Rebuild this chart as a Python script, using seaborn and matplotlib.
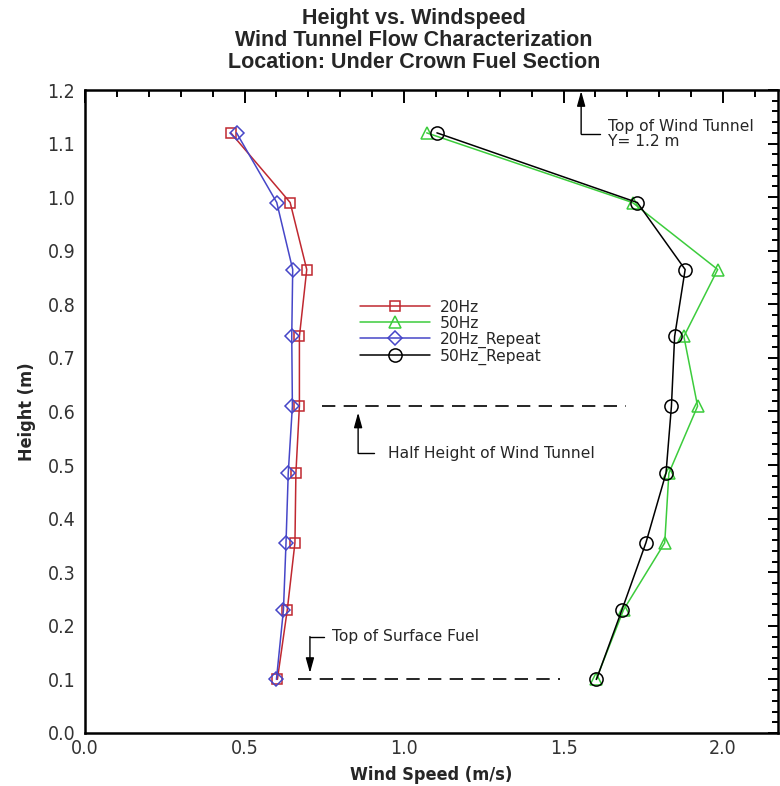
import matplotlib
matplotlib.use("Agg")
import matplotlib.pyplot as plt
from matplotlib.ticker import MultipleLocator, FormatStrFormatter
import numpy as np
import pandas as pd
import seaborn as sns

# Measured heights (m) and wind speeds (m/s) for each fan setting
heights = [0.10, 0.23, 0.355, 0.485, 0.61, 0.74, 0.865, 0.99, 1.12]
speed_20hz = [0.603, 0.634, 0.658, 0.661, 0.672, 0.672, 0.695, 0.643, 0.457]
speed_50hz = [1.602, 1.688, 1.817, 1.830, 1.920, 1.877, 1.983, 1.716, 1.071]
speed_20hz_rep = [0.600, 0.622, 0.630, 0.637, 0.650, 0.648, 0.651, 0.601, 0.475]
speed_50hz_rep = [1.603, 1.683, 1.758, 1.821, 1.838, 1.848, 1.881, 1.731, 1.103]

series_names = ["20Hz", "50Hz", "20Hz_Repeat", "50Hz_Repeat"]
series_values = [speed_20hz, speed_50hz, speed_20hz_rep, speed_50hz_rep]
series_colors = ["#c02830", "#3ccc3c", "#4646c8", "#000000"]
series_markers = ["s", "^", "D", "o"]
series_msize = [7.5, 8.5, 7.5, 9.5]

sns.set_theme(style="white")
plt.rcParams["font.family"] = ["Liberation Sans", "DejaVu Sans"]
narrow = dict(family="DejaVu Sans", stretch="condensed")

fig = plt.figure(figsize=(7.8, 7.86), dpi=100)
ax = fig.add_axes([85 / 780, 1 - 733 / 786, 693 / 780, 643 / 786])

frames = []
for name, vals in zip(series_names, series_values):
    frames.append(pd.DataFrame({"speed": vals, "height": heights, "series": name}))
df = pd.concat(frames, ignore_index=True)

for name, color, marker, ms in zip(series_names, series_colors, series_markers, series_msize):
    sub = df[df["series"] == name]
    sns.lineplot(data=sub, x="speed", y="height", sort=False, estimator=None,
                 color=color, linewidth=1.1, marker=marker, markersize=ms,
                 markerfacecolor="none", markeredgecolor=color, markeredgewidth=1.1,
                 label=name, legend=False, ax=ax)

# Reference levels
dash = (0, (8, 5))
ax.plot([0.742, 1.695], [0.61, 0.61], color="black", lw=1.2, linestyle=dash)
ax.plot([0.668, 1.49], [0.10, 0.10], color="black", lw=1.2, linestyle=dash)

note_font = dict(family="DejaVu Sans", size=11.2)

def callout(x, y_tip, y_corner, x_end, text, text_x):
    ax.annotate("", xy=(x, y_tip), xytext=(x, y_corner),
                arrowprops=dict(arrowstyle="-|>,head_length=0.9,head_width=0.25",
                                mutation_scale=10, color="black", lw=1.0,
                                shrinkA=0, shrinkB=0))
    ax.plot([x, x_end], [y_corner, y_corner], color="black", lw=1.0)
    ax.text(text_x, y_corner, text, fontdict=note_font, ha="left", va="center",
            linespacing=1.05)

callout(1.555, 1.198, 1.118, 1.615, "Top of Wind Tunnel\nY= 1.2 m", 1.640)
callout(0.856, 0.598, 0.522, 0.905, "Half Height of Wind Tunnel", 0.950)
callout(0.705, 0.112, 0.180, 0.750, "Top of Surface Fuel", 0.775)

ax.set_xlim(0.0, 2.172)
ax.set_ylim(0.0, 1.2)
ax.xaxis.set_major_locator(MultipleLocator(0.5))
ax.xaxis.set_minor_locator(MultipleLocator(0.1))
ax.yaxis.set_major_locator(MultipleLocator(0.1))
ax.yaxis.set_minor_locator(MultipleLocator(0.02))
ax.xaxis.set_major_formatter(FormatStrFormatter("%.1f"))
ax.yaxis.set_major_formatter(FormatStrFormatter("%.1f"))

for s in ax.spines.values():
    s.set_visible(True)
    s.set_color("black")
    s.set_linewidth(1.8)

ax.tick_params(which="both", direction="in", top=True, right=True,
               color="black", width=1.4)
ax.tick_params(axis="x", which="major", length=9, pad=4)
ax.tick_params(axis="x", which="minor", length=5)
ax.tick_params(axis="y", which="major", length=7, pad=7)
ax.tick_params(axis="y", which="minor", length=4)
for lab in ax.get_xticklabels() + ax.get_yticklabels():
    lab.set_fontfamily(narrow["family"])
    lab.set_fontstretch(narrow["stretch"])
    lab.set_fontsize(14)
    lab.set_color("#333333")

ax.set_xlabel("Wind Speed (m/s)", fontsize=13, fontweight="bold",
              fontfamily=narrow["family"], fontstretch=narrow["stretch"], labelpad=6)
ax.set_ylabel("Height (m)", fontsize=13, fontweight="bold",
              fontfamily=narrow["family"], fontstretch=narrow["stretch"], labelpad=8)

handles, labels = ax.get_legend_handles_labels()
leg = ax.legend(handles, labels, loc="upper left", bbox_to_anchor=(0.397, 0.674),
                frameon=False, prop=dict(family="DejaVu Sans", size=11.2),
                handlelength=4.5, handletextpad=0.6,
                labelspacing=0.06, borderpad=0, borderaxespad=0, numpoints=1)

fig.text(414 / 780, 1 - 8 / 786,
         "Height vs. Windspeed\nWind Tunnel Flow Characterization\nLocation: Under Crown Fuel Section",
         ha="center", va="top", fontsize=15.5, fontweight="bold", linespacing=1.05)

fig.savefig("out.png", dpi=100, facecolor="white")
